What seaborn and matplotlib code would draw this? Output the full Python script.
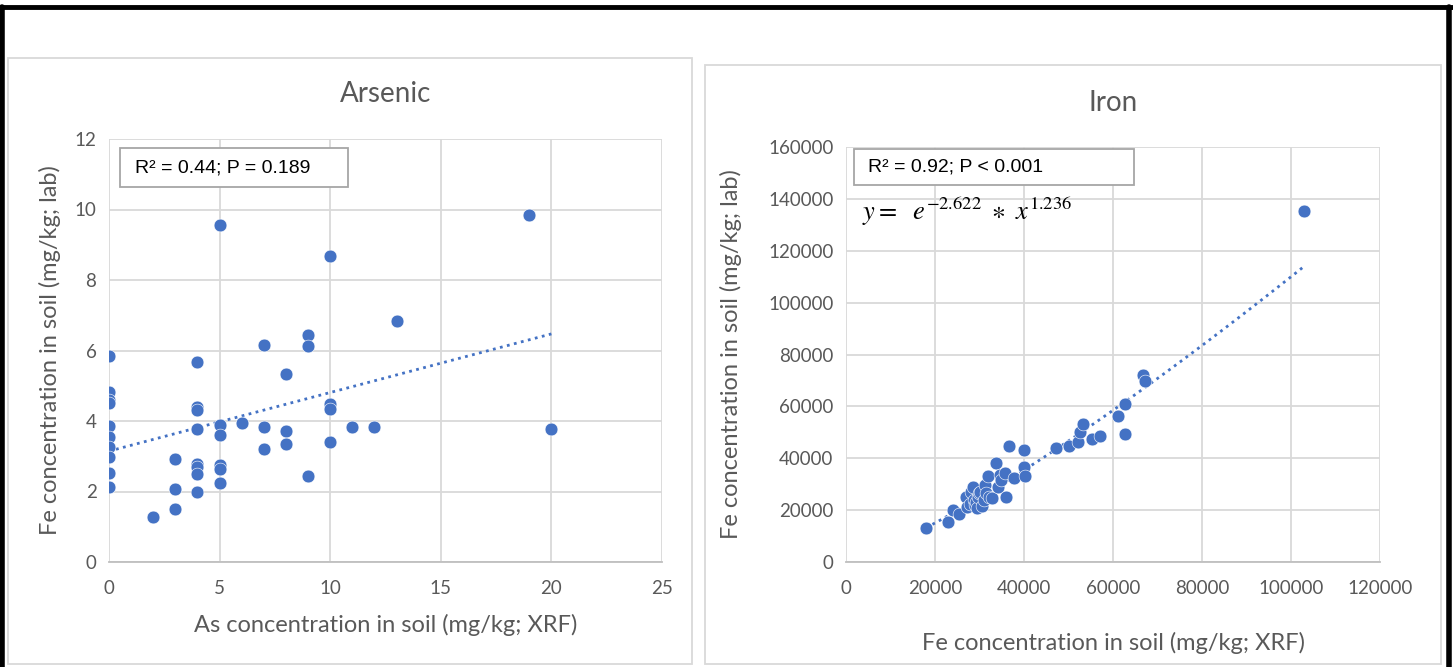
import numpy as np
import pandas as pd
import matplotlib
matplotlib.use("Agg")
import matplotlib.pyplot as plt
import seaborn as sns
from matplotlib.patches import Rectangle
from matplotlib.lines import Line2D

# Arsenic: XRF vs lab (mg/kg)
as_xrf = [0, 0, 0, 0, 0, 0, 0, 0, 0, 0,
          2,
          3, 3, 3,
          4, 4, 4, 4, 4, 4, 4, 4,
          5, 5, 5, 5, 5, 5,
          6,
          7, 7, 7,
          8, 8, 8,
          9, 9, 9,
          10, 10, 10, 10,
          11, 12, 13, 19, 20]
as_lab = [5.84, 4.81, 4.60, 4.50, 3.87, 3.54, 3.25, 2.97, 2.52, 2.12,
          1.29,
          2.92, 2.07, 1.50,
          5.66, 4.39, 4.31, 3.77, 2.78, 2.69, 2.50, 1.98,
          9.55, 3.89, 3.60, 2.75, 2.63, 2.23,
          3.93,
          6.17, 3.82, 3.21,
          5.32, 3.73, 3.35,
          6.44, 6.13, 2.45,
          8.67, 4.48, 4.33, 3.41,
          3.82, 3.82, 6.84, 9.85, 3.76]

# Iron: XRF vs lab (mg/kg)
fe_xrf = [18000, 22900, 24000, 25400, 26900, 27300, 27800, 28000, 28500, 28800,
          29000, 29200, 29400, 29600, 29800, 30100, 30500, 30900, 31200, 31500,
          32000, 32200, 32700, 33700, 34200, 34500, 34900, 35700, 36000, 36700,
          37800, 40000, 40100, 40300, 47300, 50000, 52100, 52500, 53200, 55300,
          57100, 61100, 62600, 62700, 66800, 67100, 103000]
fe_lab = [13200, 15600, 20200, 18500, 25000, 21100, 22500, 27000, 29000, 24000,
          22000, 23000, 20700, 25200, 26500, 27100, 21500, 23900, 29500, 26500,
          33200, 25000, 24600, 38100, 28800, 33500, 31700, 34500, 25200, 44800,
          32300, 43000, 36800, 33200, 44100, 44900, 46300, 50300, 53200, 47400,
          48700, 56400, 61000, 49400, 72200, 69600, 135500]

# power trendline coefficients shown on the chart
fe_ln_a = -2.622
fe_b = 1.236

as_ticks = [0, 5, 10, 15, 20, 25]
as_yticks = [0, 2, 4, 6, 8, 10, 12]
fe_ticks = [0, 20000, 40000, 60000, 80000, 100000, 120000]
fe_yticks = [0, 20000, 40000, 60000, 80000, 100000, 120000, 140000, 160000]

blue = "#4472C4"
grid = "#d9d9d9"
txt = "#595959"
arial = ["Liberation Sans", "DejaVu Sans"]

sns.set_style("whitegrid")
plt.rcParams["font.family"] = ["Lato", "DejaVu Sans"]
plt.rcParams["mathtext.fontset"] = "stix"

W, H = 1453, 667
fig = plt.figure(figsize=(W / 100, H / 100), dpi=100)


def fbox(x0, y0, x1, y1):
    # pixel box (top-left origin) -> figure fraction rect
    return [x0 / W, 1 - y1 / H, (x1 - x0) / W, (y1 - y0) / H]


# panel frames
for x0, y0, x1, y1 in [(8, 58, 692, 664), (705, 65, 1441, 664)]:
    r = fbox(x0, y0, x1, y1)
    fig.patches.append(Rectangle((r[0], r[1]), r[2], r[3], transform=fig.transFigure,
                                 fill=False, edgecolor=grid, lw=1.3))

# black outer border (top, left, right)
fig.add_artist(Line2D([0, 1], [1 - 7 / H, 1 - 7 / H], transform=fig.transFigure, color="black", lw=3.5))
fig.add_artist(Line2D([2 / W, 2 / W], [0, 1 - 7 / H], transform=fig.transFigure, color="black", lw=4))
fig.add_artist(Line2D([1 - 4 / W, 1 - 4 / W], [0, 1 - 7 / H], transform=fig.transFigure, color="black", lw=4))


def style(ax, xt, yt):
    ax.set_xticks(xt)
    ax.set_yticks(yt)
    ax.set_xlim(xt[0], xt[-1])
    ax.set_ylim(yt[0], yt[-1])
    ax.grid(True, color=grid, lw=1.3)
    ax.set_axisbelow(True)
    for s in ["top", "right", "left"]:
        ax.spines[s].set_visible(False)
    ax.spines["bottom"].set_color("#bfbfbf")
    ax.spines["bottom"].set_linewidth(1.3)
    ax.tick_params(length=0, labelsize=13.5, labelcolor=txt)
    ax.tick_params(axis="x", pad=13)
    ax.tick_params(axis="y", pad=9)


def rbox(ax, x0, y0, x1, y1):
    # text frame given in axes fractions
    ax.add_patch(Rectangle((x0, y0), x1 - x0, y1 - y0, transform=ax.transAxes,
                           fc="white", ec="#a6a6a6", lw=1.3, zorder=5, clip_on=False))


# ---- Arsenic ----
ax1 = fig.add_axes(fbox(109, 139, 662, 562))
df_as = pd.DataFrame({"xrf": as_xrf, "lab": as_lab})
sns.scatterplot(data=df_as, x="xrf", y="lab", ax=ax1, color=blue, s=85,
                edgecolor="white", linewidth=0.4, zorder=3)
k, c = np.polyfit(as_xrf, as_lab, 1)
xs = np.array([0, max(as_xrf)])
ax1.plot(xs, c + k * xs, color=blue, lw=2, ls=(0, (1, 1.6)), zorder=2)
style(ax1, as_ticks, as_yticks)
ax1.set_xlabel("As concentration in soil (mg/kg; XRF)", fontsize=17, color=txt, labelpad=12)
ax1.set_ylabel("Fe concentration in soil (mg/kg; lab)", fontsize=17, color=txt, labelpad=10)
ax1.set_title("Arsenic", fontsize=20, color=txt, pad=27)
rbox(ax1, 0.020, 0.8865, 0.432, 0.9787)
ax1.text(0.047, 0.9326, "R² = 0.44; P = 0.189", transform=ax1.transAxes, ha="left", va="center",
         fontsize=14, family=arial, color="black", zorder=6)

# ---- Iron ----
ax2 = fig.add_axes(fbox(846, 147, 1380, 562))
df_fe = pd.DataFrame({"xrf": fe_xrf, "lab": fe_lab})
sns.scatterplot(data=df_fe, x="xrf", y="lab", ax=ax2, color=blue, s=85,
                edgecolor="white", linewidth=0.4, zorder=3)
xp = np.linspace(min(fe_xrf), max(fe_xrf), 100)
ax2.plot(xp, np.exp(fe_ln_a) * xp ** fe_b, color=blue, lw=2, ls=(0, (1, 1.6)), zorder=2)
style(ax2, fe_ticks, fe_yticks)
ax2.set_xlabel("Fe concentration in soil (mg/kg; XRF)", fontsize=17, color=txt, labelpad=25)
ax2.set_ylabel("Fe concentration in soil (mg/kg; lab)", fontsize=17, color=txt, labelpad=19)
ax2.set_title("Iron", fontsize=20, color=txt, pad=26)
rbox(ax2, 0.015, 0.908, 0.539, 0.995)
ax2.text(0.041, 0.952, "R² = 0.92; P < 0.001", transform=ax2.transAxes, ha="left", va="center",
         fontsize=14, family=arial, color="black", zorder=6)
ax2.text(0.030, 0.843, r"$y =\ \ e^{-2.622}\ \ast\ x^{1.236}$", transform=ax2.transAxes,
         ha="left", va="center", fontsize=19, color="black", zorder=6)

fig.savefig("out.png", dpi=100)
